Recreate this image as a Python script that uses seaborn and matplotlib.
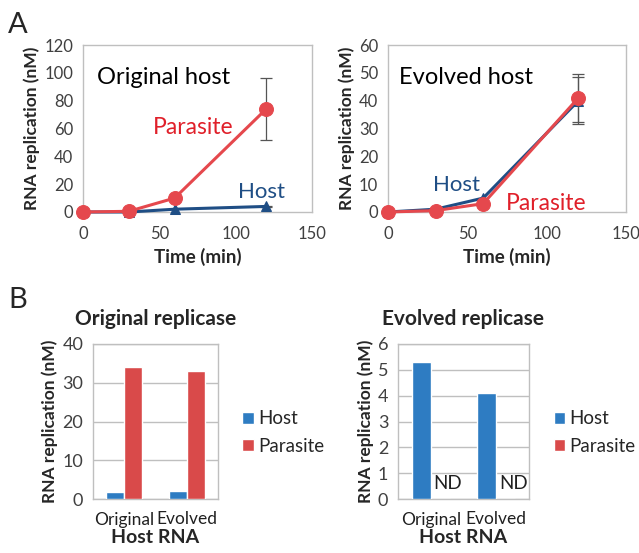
import numpy as np
import pandas as pd
import matplotlib
matplotlib.use("Agg")
import matplotlib.pyplot as plt
import seaborn as sns

# panel A: time course
time_min = [0, 30, 60, 120]
orig_parasite = [0, 0.5, 10, 74]
orig_parasite_err = [0, 0, 0, 22]
orig_host = [0, 0, 2, 4]
evol_host = [0, 1, 5, 40]
evol_host_err = [0, 0, 0, 8.5]
evol_parasite = [0, 0.5, 3, 41]
evol_parasite_err = [0, 0, 0, 8.5]

# panel B: bar charts
host_rna = ["Original", "Evolved"]
orig_rep_host = [1.7, 2.0]
orig_rep_parasite = [34, 33]
evol_rep_host = [5.3, 4.1]
evol_rep_parasite = [0, 0]

RED = "#e5484d"
NAVY = "#1f4e85"
BAR_BLUE = "#2e7cc2"
BAR_RED = "#d94a4a"
TICK = "#404040"

sns.set_theme(style="white")
plt.rcParams["font.family"] = ["Lato", "DejaVu Sans"]

W, H = 639, 553
fig = plt.figure(figsize=(W / 100, H / 100), dpi=100)


def px_axes(x0, y0, x1, y1):
    return fig.add_axes([x0 / W, 1 - y1 / H, (x1 - x0) / W, (y1 - y0) / H])


def style_box(ax, ticksize):
    for s in ax.spines.values():
        s.set_color("#bfbfbf")
        s.set_linewidth(1.0)
    ax.tick_params(colors=TICK, labelsize=ticksize, length=0, pad=5)
    ax.tick_params(axis="y", length=4, width=1, color="#bfbfbf", pad=3)


def line_panel(ax, series, ymax, ystep):
    for y, err, color, marker, ms, z in series:
        sns.lineplot(x=time_min, y=y, ax=ax, color=color, marker=marker,
                     markersize=ms, markeredgecolor=color, linewidth=2.2,
                     zorder=z, clip_on=False)
        ax.errorbar(time_min[-1], y[-1], yerr=err[-1], color="#555555",
                    capsize=4, elinewidth=0.9, capthick=0.9, zorder=z - 1)
    ax.set_xlim(0, 150)
    ax.set_ylim(0, ymax)
    ax.set_xticks([0, 50, 100, 150])
    ax.set_yticks(np.arange(0, ymax + 1, ystep))
    style_box(ax, 12)
    ax.tick_params(axis="x", pad=10)
    ax.set_xlabel("Time (min)", fontsize=13.5, fontweight="bold", labelpad=4)
    ax.set_ylabel("RNA replication (nM)", fontsize=12.5, fontweight="bold",
                  labelpad=3)


# A left
ax1 = px_axes(83, 45, 312, 212)
line_panel(ax1, [(orig_host, [0, 0, 0, 0.5], NAVY, "^", 7, 3),
                 (orig_parasite, orig_parasite_err, RED, "o", 10, 4)], 120, 20)
ax1.text(9, 97, "Original host", fontsize=17, color="black", va="center")
ax1.text(72, 61, "Parasite", fontsize=16.5, color="#e0202a", ha="center",
         va="center")
ax1.text(117, 14.5, "Host", fontsize=16, color=NAVY, ha="center",
         va="center")

# A right
ax2 = px_axes(388, 45, 626, 212)
line_panel(ax2, [(evol_host, evol_host_err, NAVY, "^", 7, 3),
                 (evol_parasite, evol_parasite_err, RED, "o", 10, 4)], 60, 10)
ax2.text(7, 48.5, "Evolved host", fontsize=17, color="black", va="center")
ax2.text(43, 9.7, "Host", fontsize=16, color=NAVY, ha="center",
         va="center")
ax2.text(100, 2.9, "Parasite", fontsize=16.5, color="#e0202a", ha="center",
         va="center")


def bar_panel(ax, host_vals, par_vals, ymax, ystep, title, nd=False):
    df = pd.DataFrame({
        "Host RNA": host_rna * 2,
        "value": list(host_vals) + list(par_vals),
        "series": ["Host"] * 2 + ["Parasite"] * 2,
    })
    sns.barplot(data=df, x="Host RNA", y="value", hue="series", ax=ax,
                palette={"Host": BAR_BLUE, "Parasite": BAR_RED},
                width=0.58, saturation=1, zorder=3)
    ax.set_xlim(-0.5, 1.5)
    ax.set_ylim(0, ymax)
    ax.set_yticks(np.arange(0, ymax + 0.01, ystep))
    ax.yaxis.grid(True, color="#bfbfbf", linewidth=1.0, zorder=0)
    ax.set_axisbelow(True)
    style_box(ax, 13)
    ax.set_xticks([-0.5, 0.5, 1.5], minor=True)
    ax.tick_params(axis="x", which="minor", length=4, color="#bfbfbf",
                   width=1)
    ax.tick_params(axis="x", labelsize=12.5, colors="#202020", pad=9)
    ax.set_xlabel("Host RNA", fontsize=14, fontweight="bold", labelpad=1)
    ax.set_ylabel("RNA replication (nM)", fontsize=12.5, fontweight="bold",
                  labelpad=3)
    ax.set_title(title, fontsize=15, fontweight="bold", pad=14)
    ax.legend(loc="center left", bbox_to_anchor=(1.06, 0.43),
              frameon=False, fontsize=13.5, handlelength=0.6,
              handleheight=0.6, handletextpad=0.25, labelspacing=0.55)
    if nd:
        for i in range(len(host_rna)):
            ax.text(i + 0.26, ymax * 0.097, "ND", fontsize=13.5,
                    ha="center", va="center", color="#202020")


ax3 = px_axes(93, 344, 218, 499)
bar_panel(ax3, orig_rep_host, orig_rep_parasite, 40, 10, "Original replicase")

ax4 = px_axes(398, 344, 529, 499)
bar_panel(ax4, evol_rep_host, evol_rep_parasite, 6, 1, "Evolved replicase",
          nd=True)

fig.text(8 / W, 1 - 25 / H, "A", fontsize=21, va="center")
fig.text(8 / W, 1 - 300 / H, "B", fontsize=21, va="center")

fig.savefig("out.png", dpi=100)
